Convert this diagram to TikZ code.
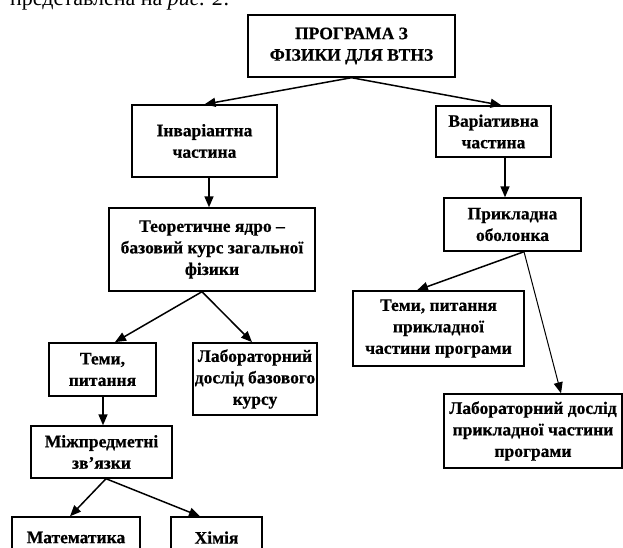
\documentclass[tikz,border=0pt]{standalone}
\usepackage{fontspec}
\setmainfont{Liberation Serif}[BoldFeatures={FakeBold=0.6}]
\usetikzlibrary{arrows.meta}

\tikzset{
  box/.style={draw, line width=1.4pt, align=center, inner sep=0pt,
    font=\bfseries\fontsize{17.5}{21.5}\selectfont},
  arr/.style={-{Triangle[length=11pt,width=9pt]}, line width=1.5pt},
  thinarr/.style={-{Triangle[length=11pt,width=9pt]}, line width=1pt}
}

\begin{document}
\begin{tikzpicture}[x=1pt, y=-1pt]
    \useasboundingbox (0,0) rectangle (623,547);
    \clip (0,0) rectangle (623,547);
    \node [anchor=base west, inner sep=0pt, font=\fontsize{22}{26}\selectfont] (intro) at (10,5)
      {представлена на \textit{рис. 2}.};
    % top level
    \node [box, minimum width=207pt, minimum height=62pt] (prog) at (351.5,46) {ПРОГРАМА З\\ФІЗИКИ ДЛЯ ВТНЗ};
    \node [box, minimum width=145pt, minimum height=72pt] (inv) at (204.5,141) {Інваріантна\\частина};
    \node [box, minimum width=115pt, minimum height=51pt] (var) at (493.5,131.5) {Варіативна\\частина};
    % left branch
    \node [box, minimum width=206pt, minimum height=83pt] (theor) at (212,249.5) {Теоретичне ядро –\\базовий курс загальної\\фізики};
    \node [box, line width=1.8pt, minimum width=107pt, minimum height=53pt] (temy) at (102.5,369.5) {Теми,\\питання};
    \node [box, line width=1.8pt, minimum width=124pt, minimum height=72pt] (labb) at (255,379) {Лабораторний\\дослід базового\\курсу};
    \node [box, minimum width=141pt, minimum height=52pt] (mizh) at (101.5,452) {Міжпредметні\\зв’язки};
    \node [box, minimum width=128pt, minimum height=41pt] (math) at (76,537.5) {Математика};
    \node [box, minimum width=91pt, minimum height=41pt] (chem) at (216.5,537.5) {Хімія};
    % right branch
    \node [box, minimum width=137pt, minimum height=53pt] (prikl) at (512.5,224.5) {Прикладна\\оболонка};
    \node [box, minimum width=171pt, minimum height=75pt] (temyp) at (438.5,328.5) {Теми, питання\\прикладної\\частини програми};
    \node [box, minimum width=178pt, minimum height=74pt] (labp) at (533,431) {Лабораторний дослід\\прикладної частини\\програми};
      \path[arr]
      (prog.south) edge (inv.north)
      (prog.south) edge ([xshift=8pt]var.north)
      ([xshift=4.5pt]inv.south) edge ([xshift=-3pt]theor.north)
      ([xshift=11.5pt]var.south) edge ([xshift=-7.5pt]prikl.north)
      ([xshift=-10pt]theor.south) edge ([xshift=12.5pt]temy.north)
      ([xshift=-10pt]theor.south) edge ([xshift=-3pt]labb.north)
      ([xshift=0.5pt]temy.south) edge ([xshift=1.5pt]mizh.north)
      ([xshift=4.5pt]mizh.south) edge ([xshift=-6pt]math.north)
      ([xshift=4.5pt]mizh.south) edge ([xshift=-16.5pt]chem.north)
      ([xshift=11.5pt]prikl.south) edge ([xshift=-21.5pt]temyp.north)
      ;
      \path[thinarr]
      ([xshift=11.5pt]prikl.south) edge ([xshift=28pt]labp.north)
      ;
  \end{tikzpicture}
\end{document}
